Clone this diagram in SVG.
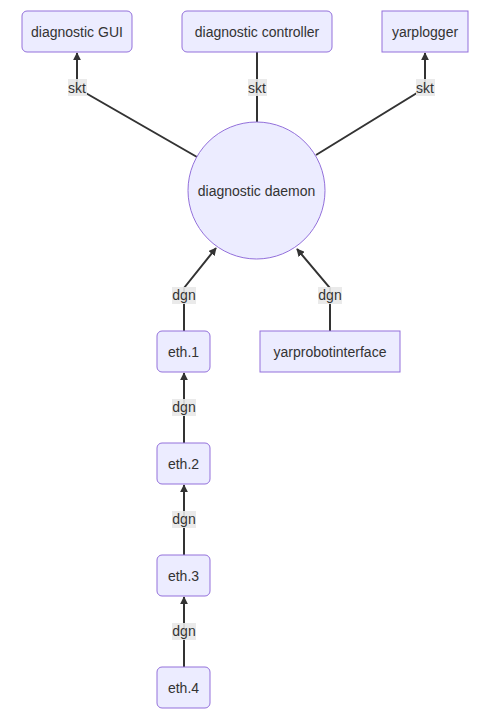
<svg xmlns="http://www.w3.org/2000/svg" width="498" height="722" viewBox="0 0 498 722">
<style>
.node rect,.node circle{fill:#ECECFF;stroke:#9370DB;stroke-width:1}
.node text{font-family:"Liberation Sans",Arial,sans-serif;font-size:14px;fill:#333;text-anchor:middle;dominant-baseline:central}
.edge{fill:none;stroke:#333;stroke-width:2}
.lbl rect{fill:#e8e8e8;opacity:0.9}
.lbl text{font-family:"Liberation Sans",Arial,sans-serif;font-size:14px;fill:#333;text-anchor:middle;dominant-baseline:central}
</style>
<defs>
<marker id="arr" viewBox="0 0 10 10" refX="9" refY="5" markerWidth="8" markerHeight="8" markerUnits="userSpaceOnUse" orient="auto">
<path d="M0,0 L10,5 L0,10 z" fill="#333"/>
</marker>
</defs>
<rect width="498" height="722" fill="#fff"/>
<g id="connectors">
<path class="edge" d="M197,157 L77,88 L77,53" marker-end="url(#arr)"/>
<path class="edge" d="M257,122 L257,52"/>
<path class="edge" d="M316,155 L425,88 L425,53" marker-end="url(#arr)"/>
<path class="edge" d="M184,331 L184,288 L216,248" marker-end="url(#arr)"/>
<path class="edge" d="M330,331 L330,288 L297,249" marker-end="url(#arr)"/>
<path class="edge" d="M184,443 L184,373" marker-end="url(#arr)"/>
<path class="edge" d="M184,555 L184,485" marker-end="url(#arr)"/>
<path class="edge" d="M184,667 L184,597" marker-end="url(#arr)"/>
<g class="lbl"><rect x="68" y="79" width="19" height="17"/><text x="77" y="88">skt</text></g>
<g class="lbl"><rect x="248" y="79" width="19" height="17"/><text x="257" y="88">skt</text></g>
<g class="lbl"><rect x="416" y="79" width="19" height="17"/><text x="425" y="88">skt</text></g>
<g class="lbl"><rect x="172" y="287" width="24" height="17"/><text x="184" y="295">dgn</text></g>
<g class="lbl"><rect x="318" y="287" width="24" height="17"/><text x="330" y="295">dgn</text></g>
<g class="lbl"><rect x="172" y="399" width="24" height="17"/><text x="184" y="407">dgn</text></g>
<g class="lbl"><rect x="172" y="511" width="24" height="17"/><text x="184" y="519">dgn</text></g>
<g class="lbl"><rect x="172" y="623" width="24" height="17"/><text x="184" y="631">dgn</text></g>
</g>
<g id="gui" class="node"><rect x="22" y="11" width="110" height="41" rx="5"/><text x="77" y="31.5">diagnostic GUI</text></g>
<g id="controller" class="node"><rect x="182" y="11" width="150" height="41" rx="5"/><text x="257" y="31.5">diagnostic controller</text></g>
<g id="yarplogger" class="node"><rect x="382" y="11" width="86" height="41"/><text x="425" y="31.5">yarplogger</text></g>
<g id="daemon" class="node"><circle cx="256.5" cy="190.5" r="68.5"/><text x="256.5" y="190.5">diagnostic daemon</text></g>
<g id="eth1" class="node"><rect x="157" y="331" width="53" height="41" rx="5"/><text x="183.5" y="351.5">eth.1</text></g>
<g id="yarprobotinterface" class="node"><rect x="260" y="331" width="140" height="41"/><text x="330" y="351.5">yarprobotinterface</text></g>
<g id="eth2" class="node"><rect x="157" y="443" width="53" height="41" rx="5"/><text x="183.5" y="463.5">eth.2</text></g>
<g id="eth3" class="node"><rect x="157" y="555" width="53" height="41" rx="5"/><text x="183.5" y="575.5">eth.3</text></g>
<g id="eth4" class="node"><rect x="157" y="667" width="53" height="41" rx="5"/><text x="183.5" y="687.5">eth.4</text></g>
</svg>
